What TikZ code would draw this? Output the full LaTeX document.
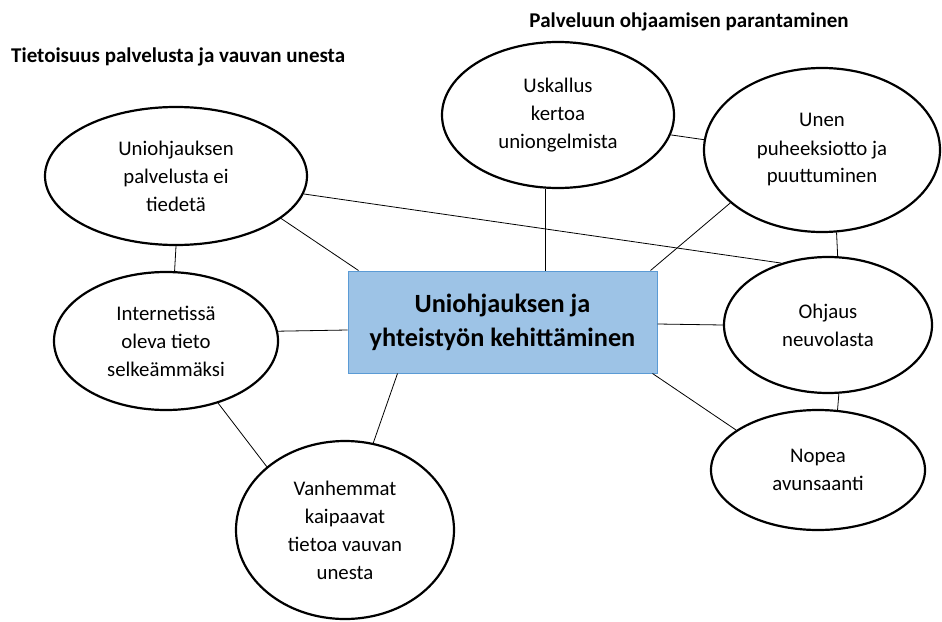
\documentclass[tikz,border=0pt]{standalone}
\usepackage{fontspec}
\setmainfont{Carlito}
\usetikzlibrary{shapes.geometric,calc}
\definecolor{boxfill}{RGB}{157,195,230}
\definecolor{boxdraw}{RGB}{91,155,213}
\begin{document}
\begin{tikzpicture}[x=1pt,y=-1pt,
  bubble/.style={ellipse,draw=black,line width=2.2pt,inner sep=0pt,align=center,font=\fontsize{20.8}{28}\selectfont},
  link/.style={draw=black,line width=0.8pt},
  title/.style={font=\bfseries\fontsize{21}{24}\selectfont,inner sep=0pt},
  mainbox/.style={draw=boxdraw,fill=boxfill,line width=1pt,inner sep=0pt,align=center,font=\bfseries\fontsize{26.3}{34}\selectfont}]
\useasboundingbox (0,0) rectangle (942,621);
\node[title,anchor=west] (t1) at (11,57) {Tietoisuus palvelusta ja vauvan unesta};
\node[title] (t2) at (689,22) {Palveluun ohjaamisen parantaminen};
\node[bubble,minimum width=262pt,minimum height=138pt] (e1) at (176,176) {Uniohjauksen\\palvelusta ei\\tiedetä};
\node[bubble,minimum width=232pt,minimum height=146pt] (e2) at (558,115) {Uskallus\\kertoa\\uniongelmista};
\node[bubble,minimum width=236pt,minimum height=164pt] (e3) at (822,150) {Unen\\puheeksiotto ja\\puuttuminen};
\node[bubble,minimum width=208pt,minimum height=136pt] (e4) at (828,325) {Ohjaus\\neuvolasta};
\node[bubble,minimum width=224pt,minimum height=138pt] (e5) at (166,341) {Internetissä\\oleva tieto\\selkeämmäksi};
\node[bubble,minimum width=218pt,minimum height=178pt] (e6) at (345,530) {Vanhemmat\\kaipaavat\\tietoa vauvan\\unesta};
\node[bubble,minimum width=214pt,minimum height=120pt] (e7) at (818,470) {Nopea\\avunsaanti};
\node[mainbox,minimum width=309pt,minimum height=102pt] (box) at (502.5,322) {Uniohjauksen ja\\yhteistyön kehittäminen};
\draw[link] (e1.-90) -- (e5.83);
\draw[link] (e1.-22) -- ([xshift=11pt]box.north west);
\draw[link] (e1.-8) -- (e4.127);
\draw[link] (e2.-100) -- (e2.-100 |- box.north);
\draw[link] (e2.-10) -- (e3.175);
\draw[link] (e3.-150) -- ([xshift=-7pt]box.north east);
\draw[link] (e3.-80) -- (e4.82);
\draw[link] (e5.5) -- ([yshift=-8pt]box.west);
\draw[link] ([yshift=-2pt]box.east) -- (e4.west);
\draw[link] (e5.-50) -- (e6.141);
\draw[link] ([xshift=50pt]box.south west) -- (e6.72);
\draw[link] ([xshift=-5pt]box.south east) -- (e7.154);
\draw[link] (e4.-81) -- (e7.72);
\end{tikzpicture}
\end{document}
